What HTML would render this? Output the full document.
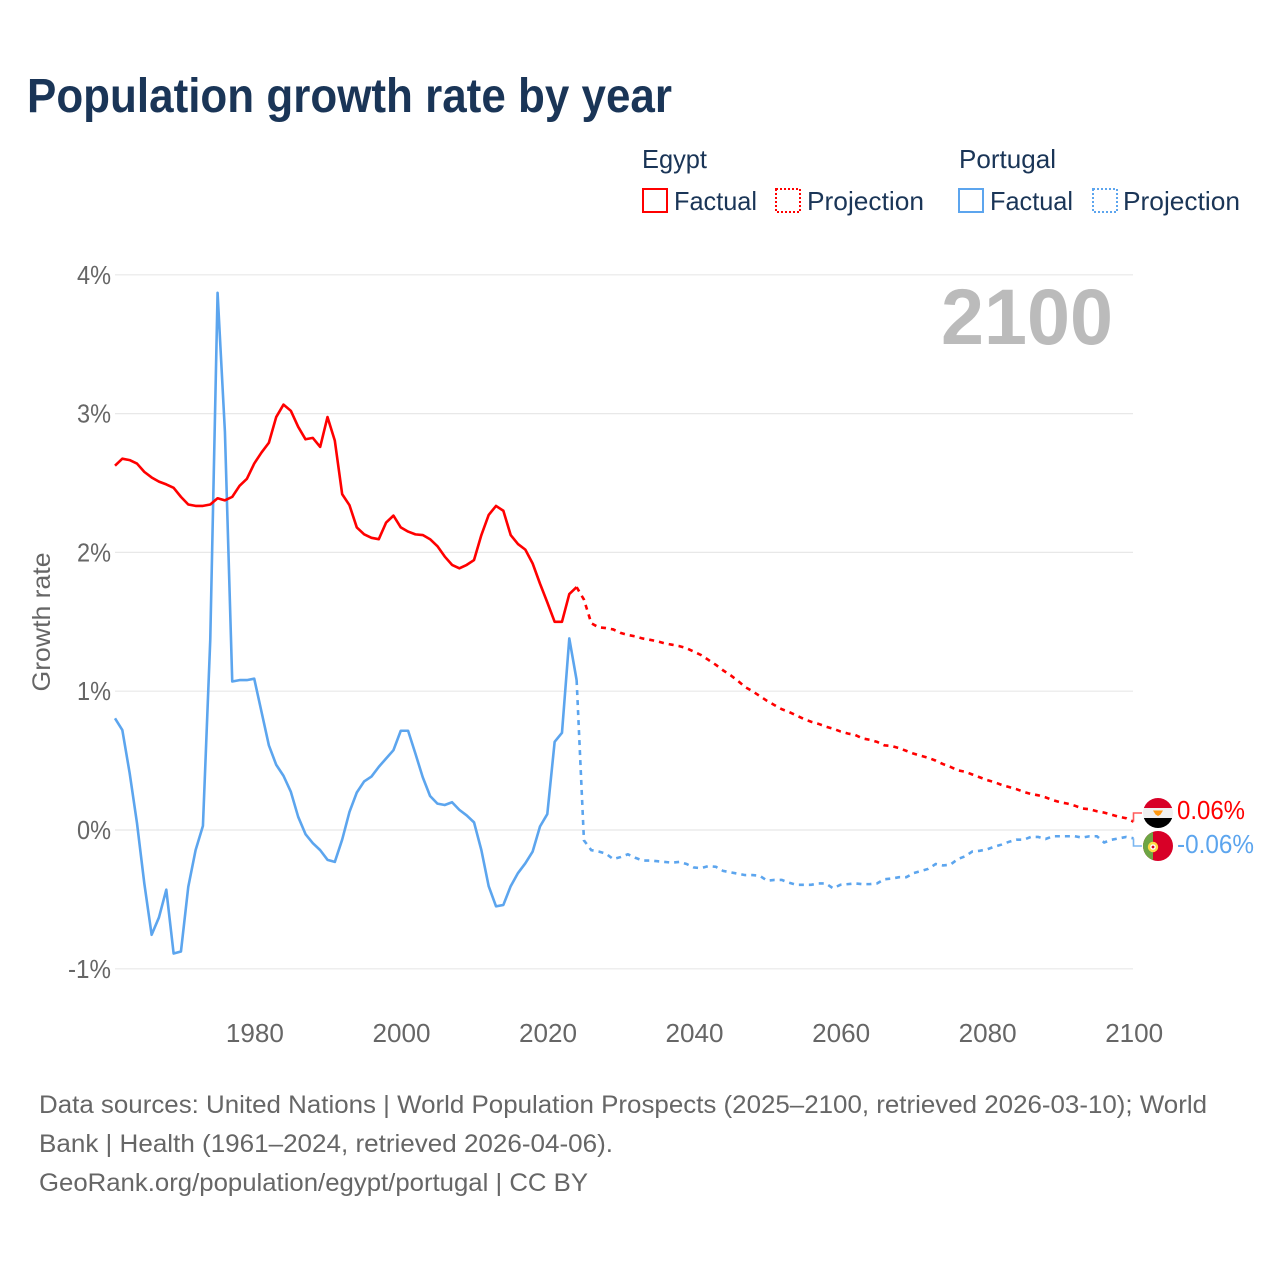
<!DOCTYPE html>
<html lang="en">
<head>
<meta charset="utf-8">
<title>Population growth rate by year</title>
<style>
html,body{margin:0;padding:0;background:#fff;}
svg{display:block;font-family:"Liberation Sans",sans-serif;}
</style>
</head>
<body>
<svg id="chart" xmlns="http://www.w3.org/2000/svg" width="1280" height="1280" viewBox="0 0 1280 1280">
  <rect x="0" y="0" width="1280" height="1280" fill="#fff"/>
  <text x="27" y="112" font-size="48" font-weight="700" fill="#1a3557" textLength="645" lengthAdjust="spacingAndGlyphs">Population growth rate by year</text>

  <g font-size="26" fill="#1a3557">
    <text x="642" y="168" textLength="65" lengthAdjust="spacingAndGlyphs">Egypt</text>
    <text x="959" y="168" textLength="97" lengthAdjust="spacingAndGlyphs">Portugal</text>
    <g>
      <rect x="643" y="189" width="24" height="23" fill="none" stroke="#ff0000" stroke-width="2"/>
      <text x="674" y="210" textLength="83" lengthAdjust="spacingAndGlyphs">Factual</text>
    </g>
    <g>
      <rect x="776" y="189" width="24" height="23" fill="none" stroke="#ff0000" stroke-width="2" stroke-dasharray="2 2"/>
      <text x="807" y="210" textLength="117" lengthAdjust="spacingAndGlyphs">Projection</text>
    </g>
    <g>
      <rect x="959" y="189" width="24" height="23" fill="none" stroke="#5ca5ee" stroke-width="2"/>
      <text x="990" y="210" textLength="83" lengthAdjust="spacingAndGlyphs">Factual</text>
    </g>
    <g>
      <rect x="1093" y="189" width="24" height="23" fill="none" stroke="#5ca5ee" stroke-width="2" stroke-dasharray="2 2"/>
      <text x="1123" y="210" textLength="117" lengthAdjust="spacingAndGlyphs">Projection</text>
    </g>
  </g>

  <g id="grid"></g>
  <g id="yticks"></g>
  <g id="xticks"></g>
  <text transform="translate(50,622) rotate(-90)" text-anchor="middle" font-size="25" fill="#666" textLength="139" lengthAdjust="spacingAndGlyphs">Growth rate</text>
  <text x="1113" y="344" text-anchor="end" font-size="79" font-weight="700" fill="#bbbbbb" textLength="172" lengthAdjust="spacingAndGlyphs">2100</text>

  <g id="series"></g>

  <g>
    <clipPath id="clip-eg"><circle cx="1158" cy="813" r="15"/></clipPath>
    <g clip-path="url(#clip-eg)">
      <rect x="1143" y="798" width="30" height="10" fill="#d80027"/>
      <rect x="1143" y="808" width="30" height="10" fill="#f0f0f0"/>
      <rect x="1143" y="818" width="30" height="10" fill="#000"/>
      <path d="M1153 810.5 L1163 810.5 L1160.5 814.5 L1158 816 L1155.5 814.5 Z" fill="#ff9811"/>
    </g>
  </g>
  <g>
    <clipPath id="clip-pt"><circle cx="1158" cy="846" r="15"/></clipPath>
    <g clip-path="url(#clip-pt)">
      <rect x="1143" y="831" width="30" height="30" fill="#d80027"/>
      <rect x="1143" y="831" width="10" height="30" fill="#6da544"/>
      <circle cx="1153" cy="847" r="4" fill="#fff" stroke="#ffda44" stroke-width="2.4"/>
      <circle cx="1153" cy="847" r="1.4" fill="#d80027"/>
    </g>
  </g>

  <g id="endlabels"></g>

  <g font-size="25" fill="#666">
    <text x="39" y="1113" textLength="1168" lengthAdjust="spacingAndGlyphs">Data sources: United Nations | World Population Prospects (2025–2100, retrieved 2026-03-10); World</text>
    <text x="39" y="1152" textLength="574" lengthAdjust="spacingAndGlyphs">Bank | Health (1961–2024, retrieved 2026-04-06).</text>
    <text x="39" y="1191" textLength="549" lengthAdjust="spacingAndGlyphs">GeoRank.org/population/egypt/portugal | CC BY</text>
  </g>
</svg>

<script>
const factualStartYear = 1961;
const projectionStartYear = 2024;
const xTickYears = [1980, 2000, 2020, 2040, 2060, 2080, 2100];
const yTickValues = [-1, 0, 1, 2, 3, 4];
const yTickLabels = ["-1%", "0%", "1%", "2%", "3%", "4%"];
const endLabels = ["0.06%", "-0.06%"];

const egyptFactual = [
  2.625, 2.675, 2.665, 2.64, 2.58, 2.54, 2.51, 2.49, 2.465, 2.40,
  2.345, 2.335, 2.335, 2.345, 2.39, 2.375, 2.40, 2.48, 2.53, 2.64,
  2.72, 2.79, 2.975, 3.065, 3.02, 2.905, 2.815, 2.825, 2.76, 2.975,
  2.805, 2.42, 2.34, 2.18, 2.13, 2.105, 2.095, 2.215, 2.265, 2.18,
  2.15, 2.13, 2.125, 2.095, 2.045, 1.97, 1.91, 1.885, 1.91, 1.945,
  2.125, 2.27, 2.335, 2.30, 2.125, 2.06, 2.02, 1.92, 1.775, 1.64,
  1.50, 1.50, 1.70, 1.75
];
const egyptProjection = [
  1.75, 1.66, 1.49, 1.46, 1.455, 1.445, 1.42, 1.405, 1.395, 1.38,
  1.37, 1.36, 1.345, 1.335, 1.325, 1.31, 1.285, 1.26, 1.225, 1.19,
  1.15, 1.115, 1.075, 1.03, 1.0, 0.965, 0.93, 0.90, 0.87, 0.85,
  0.825, 0.80, 0.78, 0.765, 0.745, 0.73, 0.71, 0.695, 0.685, 0.66,
  0.65, 0.635, 0.61, 0.605, 0.59, 0.57, 0.55, 0.535, 0.52, 0.50,
  0.475, 0.455, 0.43, 0.42, 0.40, 0.38, 0.36, 0.345, 0.325, 0.31,
  0.295, 0.275, 0.26, 0.25, 0.235, 0.215, 0.20, 0.19, 0.175, 0.155,
  0.15, 0.135, 0.125, 0.11, 0.095, 0.085, 0.06
];
const portugalFactual = [
  0.805, 0.72, 0.41, 0.05, -0.385, -0.755, -0.63, -0.43, -0.89, -0.875,
  -0.41, -0.145, 0.03, 1.37, 3.87, 2.87, 1.07, 1.08, 1.08, 1.09,
  0.85, 0.61, 0.47, 0.39, 0.275, 0.095, -0.03, -0.095, -0.145, -0.215,
  -0.23, -0.07, 0.13, 0.27, 0.35, 0.385, 0.455, 0.515, 0.575, 0.715,
  0.715, 0.55, 0.38, 0.245, 0.19, 0.18, 0.20, 0.145, 0.105, 0.055,
  -0.145, -0.405, -0.55, -0.54, -0.405, -0.31, -0.24, -0.155, 0.025, 0.115,
  0.635, 0.70, 1.38, 1.08
];
const portugalProjection = [
  1.08, -0.075, -0.145, -0.155, -0.17, -0.21, -0.195, -0.175, -0.2, -0.22,
  -0.22, -0.225, -0.23, -0.235, -0.23, -0.245, -0.27, -0.275, -0.26, -0.265,
  -0.295, -0.305, -0.315, -0.325, -0.325, -0.33, -0.365, -0.36, -0.36, -0.38,
  -0.395, -0.395, -0.395, -0.385, -0.385, -0.42, -0.395, -0.39, -0.385, -0.39,
  -0.39, -0.385, -0.355, -0.35, -0.34, -0.34, -0.31, -0.295, -0.28, -0.245,
  -0.255, -0.25, -0.21, -0.19, -0.155, -0.15, -0.14, -0.12, -0.105, -0.085,
  -0.07, -0.07, -0.05, -0.05, -0.065, -0.045, -0.045, -0.045, -0.045, -0.055,
  -0.045, -0.045, -0.09, -0.07, -0.06, -0.05, -0.06
];

const NS = "http://www.w3.org/2000/svg";
const RED = "#ff0000";
const BLUE = "#5ca5ee";
function xScale(year) { return 115 + (year - 1961) * (1133.5 - 115) / (2100 - 1961); }
function yScale(v) { return 830 - v * 138.8; }
function make(tag, attrs, parent) {
  const node = document.createElementNS(NS, tag);
  for (const k in attrs) node.setAttribute(k, attrs[k]);
  parent.appendChild(node);
  return node;
}
function linePath(values, startYear) {
  return values.map(function (v, i) {
    return (i ? "L" : "M") + xScale(startYear + i).toFixed(2) + " " + yScale(v).toFixed(2);
  }).join(" ");
}

const gridGroup = document.getElementById("grid");
const yTickGroup = document.getElementById("yticks");
const xTickGroup = document.getElementById("xticks");
const seriesGroup = document.getElementById("series");
const endGroup = document.getElementById("endlabels");

yTickValues.forEach(function (v, i) {
  const line = make("line", { x1: 115, x2: 1133, y1: yScale(v), y2: yScale(v), stroke: "#e8e8e8", "stroke-width": 1.2 }, gridGroup);
  
  
  const label = make("text", { x: 111, y: yScale(v) + 9, "text-anchor": "end", "font-size": 26, fill: "#666", textLength: yTickLabels[i].length === 3 ? 43 : 34, lengthAdjust: "spacingAndGlyphs" }, yTickGroup);
  
  
  label.textContent = yTickLabels[i];
});

xTickYears.forEach(function (year) {
  const label = make("text", { x: xScale(year) + 0.7, y: 1042, "text-anchor": "middle", "font-size": 26, fill: "#666", textLength: 58, lengthAdjust: "spacingAndGlyphs" }, xTickGroup);
  
  
  label.textContent = year;
});

const egyptProjLine = make("path", { d: linePath(egyptProjection, projectionStartYear), fill: "none", stroke: RED, "stroke-width": 2.6, "stroke-dasharray": "5 5" }, seriesGroup);



const portugalProjLine = make("path", { d: linePath(portugalProjection, projectionStartYear), fill: "none", stroke: BLUE, "stroke-width": 2.6, "stroke-dasharray": "5 5" }, seriesGroup);



const portugalLine = make("path", { d: linePath(portugalFactual, factualStartYear), fill: "none", stroke: BLUE, "stroke-width": 2.6, "stroke-linejoin": "round" }, seriesGroup);



const egyptLine = make("path", { d: linePath(egyptFactual, factualStartYear), fill: "none", stroke: RED, "stroke-width": 2.6, "stroke-linejoin": "round" }, seriesGroup);



const lastX = xScale(2100);
const egyptEndY = yScale(egyptProjection[egyptProjection.length - 1]);
const portugalEndY = yScale(portugalProjection[portugalProjection.length - 1]);

const egyptConnector = make("path", { d: "M" + lastX + " " + egyptEndY + " V813 H1142", fill: "none", stroke: "#ff5a5a", "stroke-width": 1.6 }, endGroup);



const portugalConnector = make("path", { d: "M" + lastX + " " + portugalEndY + " V846 H1142", fill: "none", stroke: "#7ab6f1", "stroke-width": 1.6 }, endGroup);



const egyptEndLabel = make("text", { x: 1177, y: 819, "font-size": 26, fill: RED, textLength: 68, lengthAdjust: "spacingAndGlyphs" }, endGroup);


egyptEndLabel.textContent = endLabels[0];

const portugalEndLabel = make("text", { x: 1177, y: 853, "font-size": 26, fill: BLUE, textLength: 77, lengthAdjust: "spacingAndGlyphs" }, endGroup);


portugalEndLabel.textContent = endLabels[1];
</script>
</body>
</html>
